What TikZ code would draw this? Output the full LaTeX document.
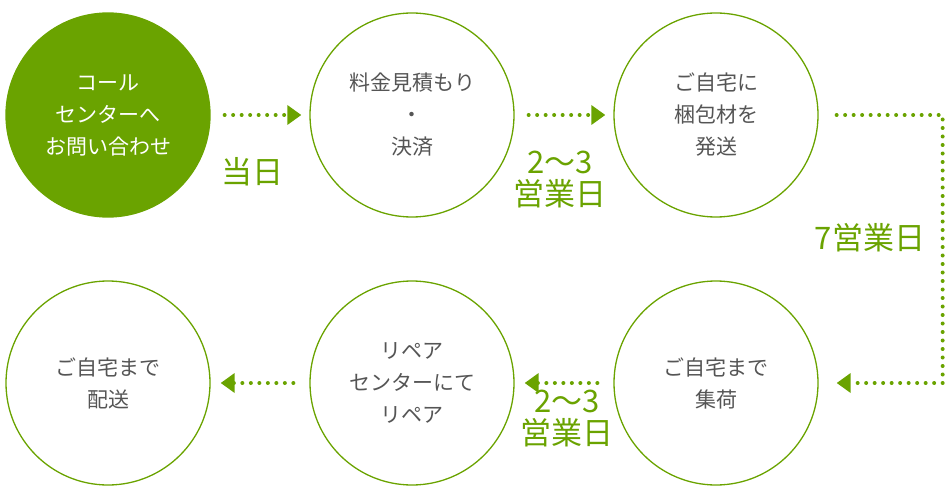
\documentclass[tikz,border=0pt]{standalone}
\usepackage{fontspec}
\setmainfont{Noto Sans CJK JP}
\usetikzlibrary{arrows.meta}
\definecolor{leaf}{HTML}{6AA300}
\definecolor{ink}{HTML}{555555}

\begin{document}
\begin{tikzpicture}[x=1pt,y=-1pt,
  stage/.style={circle,draw=leaf,line width=1.3pt,minimum size=204pt,inner sep=0pt,
    text=ink,font=\fontsize{21}{32}\selectfont,align=center},
  flow/.style={draw=leaf,line width=4pt,line cap=round,dash pattern=on 0pt off 8.5pt,
    -{Triangle[length=14pt,width=19pt,fill=leaf]},shorten <=14pt,shorten >=8pt},
  days/.style={text=leaf,font=\fontsize{31}{32}\selectfont,align=center}]

\useasboundingbox (0,0) rectangle (950,500);

\node [stage,fill=leaf,text=white] (call) at (108,115) {コール\\センターへ\\お問い合わせ};
\node [stage] (quote) at (412,115) {料金見積もり\\・\\決済};
\node [stage] (ship) at (716,115) {ご自宅に\\梱包材を\\発送};
\node [stage] (pick) at (716,383) {ご自宅まで\\集荷};
\node [stage] (fix) at (412,383) {リペア\\センターにて\\リペア};
\node [stage] (back) at (108,383) {ご自宅まで\\配送};

\draw [flow] (call.east) -- (quote.west);
\draw [flow] (quote.east) -- (ship.west);
\draw [flow,shorten <=18pt,shorten >=18pt] (ship.east) -- ++(124,0) |- (pick.east);
\draw [flow,shorten <=16pt,shorten >=10pt] (pick.west) -- (fix.east);
\draw [flow,shorten <=16pt,shorten >=10pt] (fix.west) -- (back.east);

\node [days] (d1) at (252,172) {当日};
\node [days] (d2) at (560,180) {2〜3\\営業日};
\node [days] (d3) at (870,238) {7営業日};
\node [days] (d4) at (567,418) {2〜3\\営業日};

\end{tikzpicture}
\end{document}
